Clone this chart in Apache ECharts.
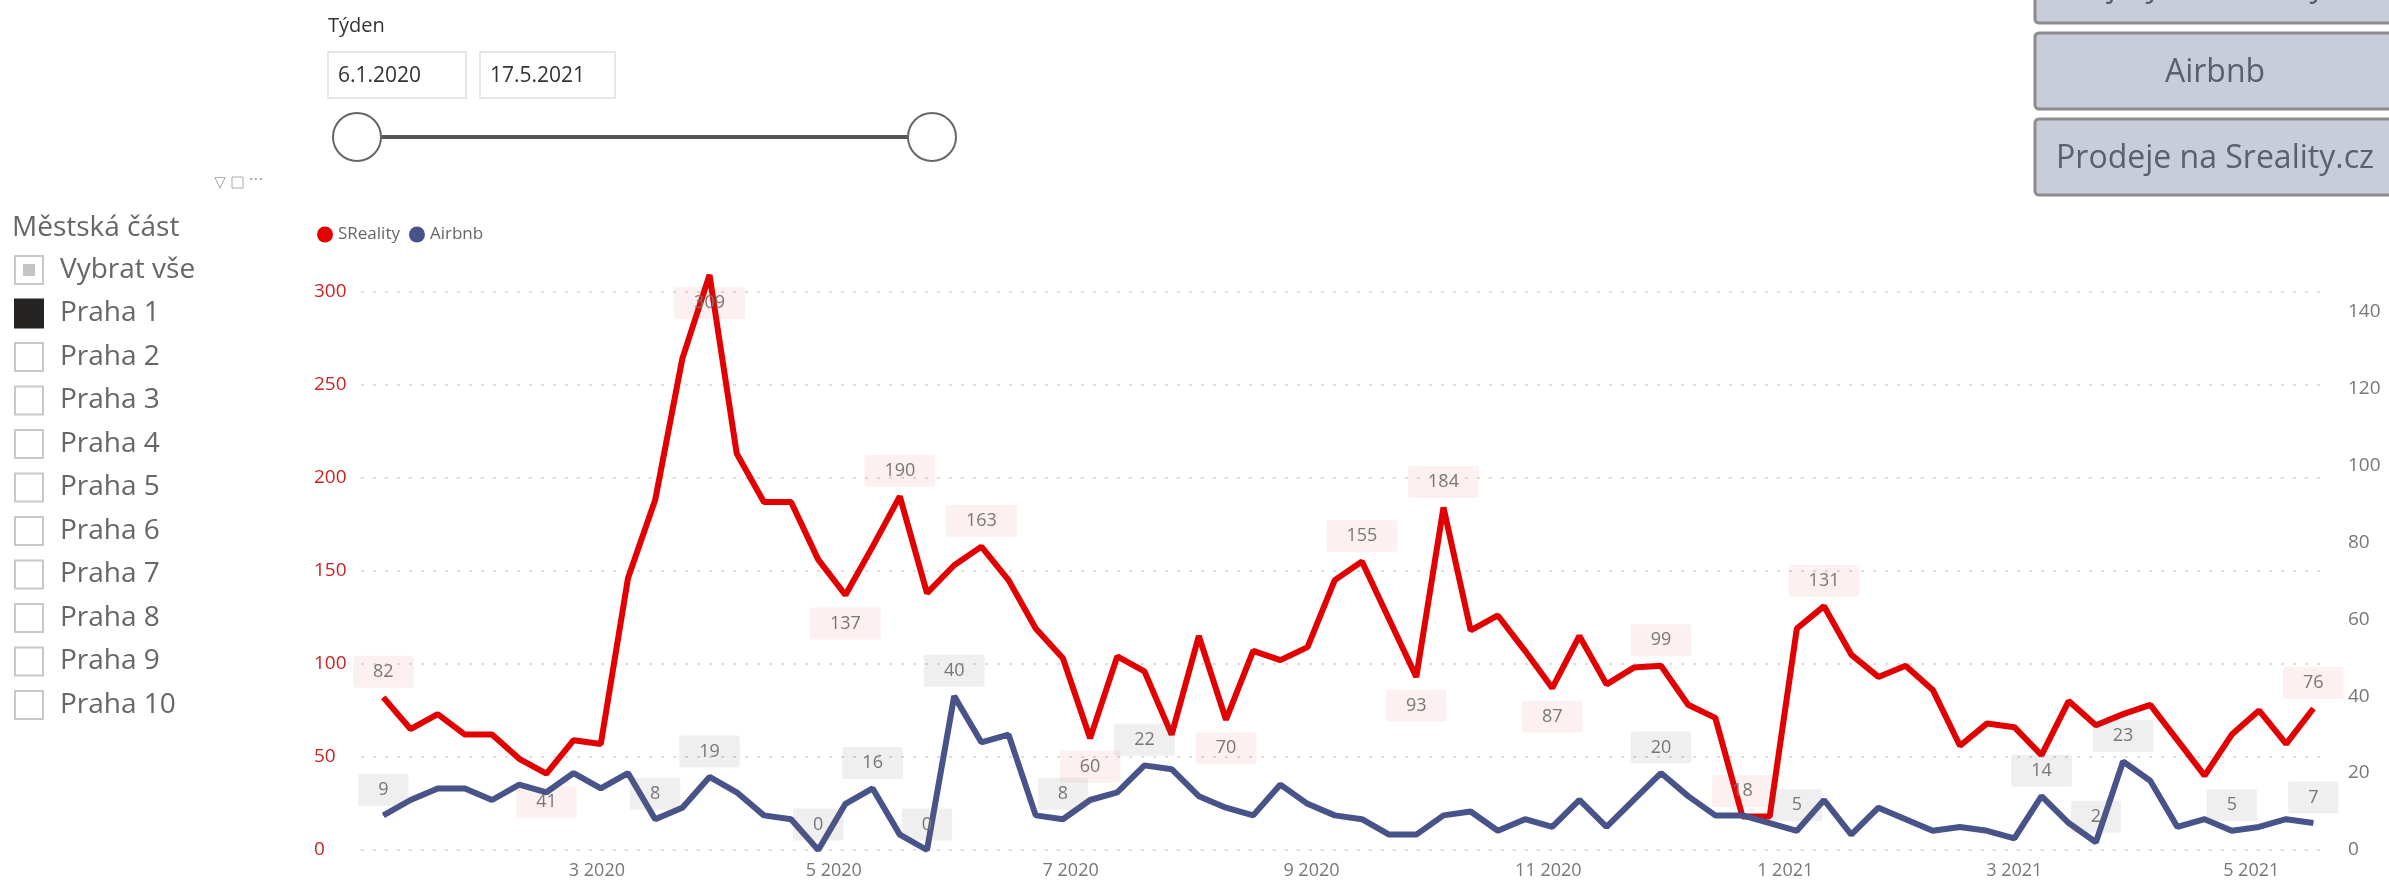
<!DOCTYPE html>
<html><head><meta charset="utf-8">
<script src="https://cdn.jsdelivr.net/npm/echarts@6/dist/echarts.min.js"></script>
<style>html,body{margin:0;padding:0;background:#fff;overflow:hidden}#c{width:2389px;height:882px;}</style>
</head><body><div id="c"></div>
<script>
// ---- data ----
const weeks = [
 '2020-01-06','2020-01-13','2020-01-20','2020-01-27','2020-02-03','2020-02-10','2020-02-17','2020-02-24',
 '2020-03-02','2020-03-09','2020-03-16','2020-03-23','2020-03-30','2020-04-06','2020-04-13','2020-04-20',
 '2020-04-27','2020-05-04','2020-05-11','2020-05-18','2020-05-25','2020-06-01','2020-06-08','2020-06-15',
 '2020-06-22','2020-06-29','2020-07-06','2020-07-13','2020-07-20','2020-07-27','2020-08-03','2020-08-10',
 '2020-08-17','2020-08-24','2020-08-31','2020-09-07','2020-09-14','2020-09-21','2020-09-28','2020-10-05',
 '2020-10-12','2020-10-19','2020-10-26','2020-11-02','2020-11-09','2020-11-16','2020-11-23','2020-11-30',
 '2020-12-07','2020-12-14','2020-12-21','2020-12-28','2021-01-04','2021-01-11','2021-01-18','2021-01-25',
 '2021-02-01','2021-02-08','2021-02-15','2021-02-22','2021-03-01','2021-03-08','2021-03-15','2021-03-22',
 '2021-03-29','2021-04-05','2021-04-12','2021-04-19','2021-04-26','2021-05-03','2021-05-10','2021-05-17'
];
const sreality = [
 82,65,73,62,62,49,41,59,57,146,188,264,309,213,187,187,156,137,163,190,138,153,163,145,
 119,103,60,104,96,62,115,70,107,102,109,145,155,124,93,184,118,126,107,87,115,89,98,99,
 78,71,18,18,119,131,105,93,99,86,56,68,66,51,80,67,73,78,59,40,62,75,57,76
];
const airbnb = [
 9,13,16,16,13,17,15,20,16,20,8,11,19,15,9,8,0,12,16,4,0,40,28,30,
 9,8,13,15,22,21,14,11,9,17,12,9,8,4,4,9,10,5,8,6,13,6,13,20,
 14,9,9,7,5,13,4,11,8,5,6,5,3,14,7,2,23,18,6,8,5,6,8,7
];
const srealityLabelsTop = [0,19,22,36,39,47,50,53,71];
const srealityLabelsBottom = [6,12,17,26,31,38,43];
const airbnbLabelsTop = [0,10,12,16,18,20,21,25,28,47,52,61,63,64,68,71];
const monthTicks = ['2020-03-01','2020-05-01','2020-07-01','2020-09-01','2020-11-01','2021-01-01','2021-03-01','2021-05-01'];
const monthTickLabels = ['3 2020','5 2020','7 2020','9 2020','11 2020','1 2021','3 2021','5 2021'];
const seriesNames = ['SReality','Airbnb'];
const districtTitle = 'Městská část';
const districts = ['Vybrat vše','Praha 1','Praha 2','Praha 3','Praha 4','Praha 5','Praha 6','Praha 7','Praha 8','Praha 9','Praha 10'];
const weekTitle = 'Týden';
const weekRange = ['6.1.2020','17.5.2021'];
const buttonLabels = ['Nájmy na Sreality.cz','Airbnb','Prodeje na Sreality.cz'];

// ---- helpers ----
const toTs = s => { const p = s.split('-').map(Number); return Date.UTC(p[0], p[1]-1, p[2]); };
const tickTs = monthTicks.map(toTs);
const FONT = '"Open Sans", "Segoe UI", sans-serif';
const RED = '#E20000', BLUE = '#485389';

function buildData(vals, top, bottom) {
  return vals.map((v, i) => {
    const item = { value: [toTs(weeks[i]), v] };
    if (top.includes(i)) item.label = { show: true, position: 'top', distance: 9 };
    else if (bottom.includes(i)) item.label = { show: true, position: 'bottom', distance: 12 };
    return item;
  });
}

// ---- page graphics (slicers, buttons) ----
const g = [];
g.push({type:'text', style:{text: weekTitle, x:328, y:26, font:'20px '+FONT, fill:'#333', verticalAlign:'middle'}});
g.push({type:'rect', shape:{x:328,y:52,width:138,height:46}, style:{fill:'#fff', stroke:'#e6e6e6', lineWidth:2}});
g.push({type:'rect', shape:{x:480,y:52,width:135,height:46}, style:{fill:'#fff', stroke:'#e6e6e6', lineWidth:2}});
g.push({type:'text', style:{text: weekRange[0], x:338, y:76, font:'21px '+FONT, fill:'#333', verticalAlign:'middle'}});
g.push({type:'text', style:{text: weekRange[1], x:490, y:76, font:'21px '+FONT, fill:'#333', verticalAlign:'middle'}});
g.push({type:'line', shape:{x1:357,y1:137,x2:932,y2:137}, style:{stroke:'#555', lineWidth:4}});
g.push({type:'circle', shape:{cx:357,cy:137,r:24}, style:{fill:'#fff', stroke:'#666', lineWidth:2}});
g.push({type:'circle', shape:{cx:932,cy:137,r:24}, style:{fill:'#fff', stroke:'#666', lineWidth:2}});
// visual header icons
g.push({type:'text', style:{text:'\u25BD', x:220, y:183, font:'15px "DejaVu Sans"', fill:'#999', align:'center', verticalAlign:'middle'}});
g.push({type:'rect', shape:{x:232,y:177,width:11,height:11}, style:{fill:'none', stroke:'#aaa', lineWidth:1}});
g.push({type:'text', style:{text:'\u00B7\u00B7\u00B7', x:256, y:181, font:'15px "DejaVu Sans"', fill:'#999', align:'center', verticalAlign:'middle'}});
// district slicer
g.push({type:'text', style:{text: districtTitle, x:12, y:228, font:'28px '+FONT, fill:'#666', verticalAlign:'middle'}});
districts.forEach((d, k) => {
  const cy = 270 + 43.5*k;
  if (k === 1) {
    g.push({type:'rect', shape:{x:14,y:cy-15,width:30,height:30}, style:{fill:'#252423'}});
  } else {
    g.push({type:'rect', shape:{x:15,y:cy-14,width:28,height:28}, style:{fill:'#fff', stroke:'#c8c8c8', lineWidth:2}});
    if (k === 0) g.push({type:'rect', shape:{x:23,y:cy-6,width:12,height:12}, style:{fill:'#c4c4c4'}});
  }
  g.push({type:'text', style:{text: d, x:60, y:cy, font:'28px '+FONT, fill:'#666', verticalAlign:'middle'}});
});
// buttons
const btnY = [-53, 33, 119];
buttonLabels.forEach((b, k) => {
  g.push({type:'rect', shape:{x:2035,y:btnY[k],width:370,height:76,r:4}, style:{fill:'#c9cdd9', stroke:'#8c8c8c', lineWidth:3}});
  g.push({type:'text', style:{text: b, x:2215, y:btnY[k]+40, font:'32px '+FONT, fill:'#5b606c', align:'center', verticalAlign:'middle'}});
});

// ---- chart ----
const chart = echarts.init(document.getElementById('c'), null, {renderer:'canvas'});
chart.setOption({
  animation: false,
  backgroundColor: '#fff',
  textStyle: { fontFamily: FONT },
  legend: {
    data: seriesNames, left: 312, top: 221, icon: 'circle', itemWidth: 16, itemHeight: 16, itemGap: 9,
    textStyle: { fontSize: 17, color: '#666', fontFamily: FONT }
  },
  grid: { left: 361, right: 64, top: 273, bottom: 32, containLabel: false },
  xAxis: {
    type: 'value',
    min: Date.UTC(2019, 11, 31, 6),
    max: Date.UTC(2021, 4, 20, 0),
    axisLine: { show: false }, axisTick: { show: false }, splitLine: { show: false },
    axisLabel: {
      customValues: tickTs, color: '#777', fontSize: 18, margin: 12, fontFamily: FONT,
      formatter: v => { const i = tickTs.indexOf(v); return i >= 0 ? monthTickLabels[i] : ''; }
    }
  },
  yAxis: [
    {
      type: 'value', min: 0, max: 310, interval: 50, position: 'left',
      axisLine: { show: false }, axisTick: { show: false },
      axisLabel: { color: '#cc2222', fontSize: 19, align: 'left', margin: 47, showMaxLabel: false, fontFamily: FONT },
      splitLine: { show: true, showMaxLine: false, lineStyle: { color: '#d4d4d4', width: 1.5, type: [3, 9] } }
    },
    {
      type: 'value', min: 0, max: 150, interval: 20, position: 'right',
      axisLine: { show: false }, axisTick: { show: false },
      axisLabel: { color: '#777', fontSize: 19, align: 'left', margin: 23, showMaxLabel: false, fontFamily: FONT },
      splitLine: { show: false }
    }
  ],
  series: [
    {
      name: seriesNames[0], type: 'line', yAxisIndex: 0,
      data: buildData(sreality, srealityLabelsTop, srealityLabelsBottom),
      symbol: 'circle', symbolSize: 1, showSymbol: true,
      lineStyle: { color: RED, width: 6 }, itemStyle: { color: RED },
      label: { show: false, color: '#777', fontSize: 18, fontFamily: FONT, padding: [7, 20],
               backgroundColor: 'rgba(225,40,40,0.07)', borderRadius: 2 },
      emphasis: { disabled: true }, z: 2
    },
    {
      name: seriesNames[1], type: 'line', yAxisIndex: 1,
      data: buildData(airbnb, airbnbLabelsTop, []),
      symbol: 'circle', symbolSize: 1, showSymbol: true,
      lineStyle: { color: BLUE, width: 6 }, itemStyle: { color: BLUE },
      label: { show: false, color: '#777', fontSize: 18, fontFamily: FONT, padding: [7, 20],
               backgroundColor: 'rgba(110,110,110,0.11)', borderRadius: 2 },
      emphasis: { disabled: true }, z: 3
    }
  ],
  graphic: g
});
</script></body></html>
